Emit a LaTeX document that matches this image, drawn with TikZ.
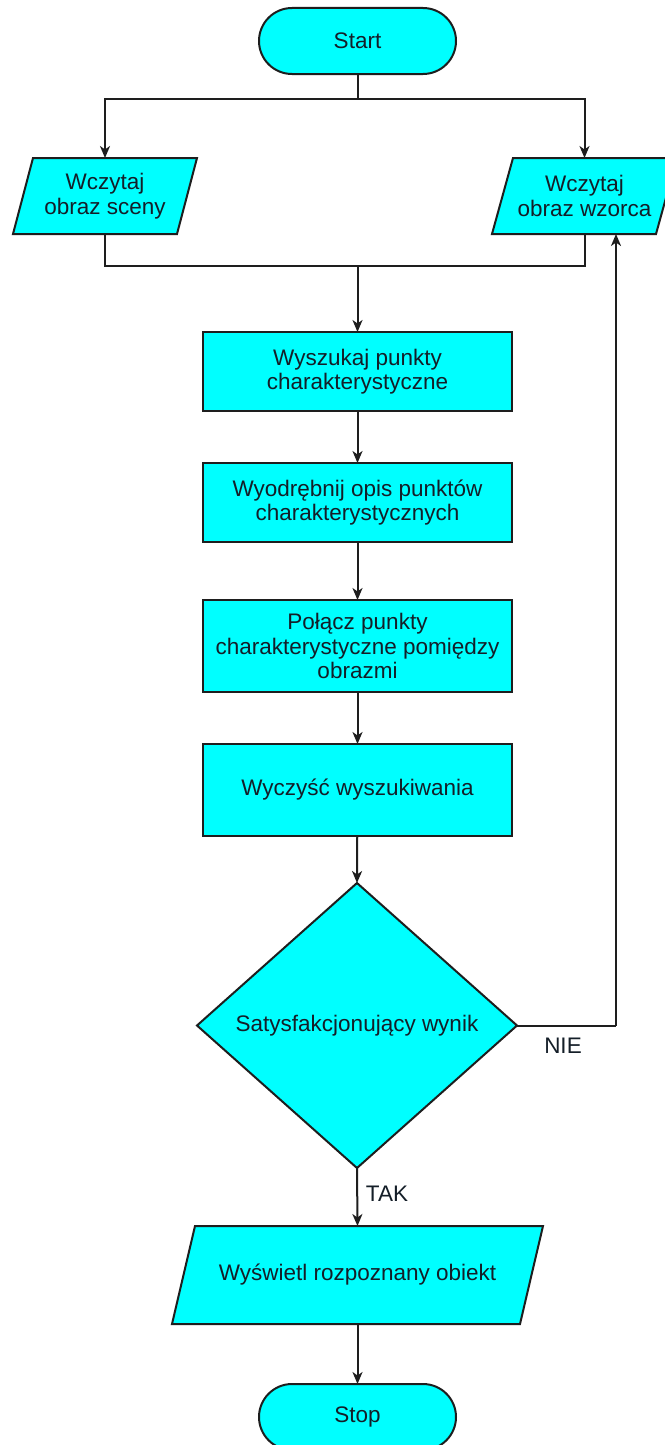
\documentclass[tikz,border=0pt]{standalone}
\usepackage{fontspec}
\setmainfont{Liberation Sans}
\usetikzlibrary{shapes.geometric,arrows.meta,calc,backgrounds}
\definecolor{boxfill}{RGB}{0,255,255}
\definecolor{inkline}{RGB}{30,30,30}
\definecolor{inktext}{RGB}{20,30,40}
\tikzset{
  base/.style={draw=inkline, line width=2pt, fill=boxfill, text=inktext, align=center,
    inner sep=0pt, outer sep=0pt, font=\fontsize{22.5}{24.5}\selectfont},
  terminal/.style={base, rectangle, rounded corners=33pt, minimum width=197pt, minimum height=66pt},
  procbox/.style={base, rectangle, minimum width=309pt},
  iobox/.style={base, draw=none, fill=none, rectangle},
  decision/.style={base, diamond, minimum width=320pt, minimum height=285pt},
  conn/.style={draw=inkline, line width=2pt},
  arr/.style={conn, -{Stealth[length=12pt,width=10pt,inset=3.5pt]}},
  lbl/.style={text=inktext, font=\fontsize{22.5}{24.5}\selectfont, inner sep=0pt}
}
\newcommand\drawpara[2]{%
  \begin{pgfonlayer}{background}
  \filldraw[draw=inkline, line width=2pt, fill=boxfill, line join=miter]
    ($(#1.south west)+(-#2,0)$) -- ($(#1.south east)+(-#2,0)$) --
    ($(#1.north east)+(#2,0)$) -- ($(#1.north west)+(#2,0)$) -- cycle;
  \end{pgfonlayer}}
\begin{document}
\begin{tikzpicture}[x=1pt,y=-1pt]
\begin{pgfonlayer}{background}
\fill[white] (0,0) rectangle (664,1445);
\end{pgfonlayer}
\useasboundingbox (0,0) rectangle (664,1445);

\node[terminal] (start) at (357.5,41) {Start};
\node[iobox, minimum width=164pt, minimum height=76pt] (scena) at (105,196) {Wczytaj\\obraz sceny};
\drawpara{scena}{10}
\node[iobox, minimum width=164pt, minimum height=76pt] (wzor) at (584.5,196) {Wczytaj\\obraz wzorca};
\drawpara{wzor}{10.5}
\node[procbox, minimum height=79pt] (szukaj) at (357.5,371.5) {Wyszukaj punkty\\charakterystyczne};
\node[procbox, minimum height=79pt] (opis) at (357.5,502.5) {Wyodrębnij opis punktów\\charakterystycznych};
\node[procbox, minimum height=92pt] (polacz) at (357.5,646) {Połącz punkty\\charakterystyczne pomiędzy\\obrazmi};
\node[procbox, minimum height=92pt] (czysc) at (357.5,790) {Wyczyść wyszukiwania};
\node[decision] (wynik) at (357,1025.5) {Satysfakcjonujący wynik};
\node[iobox, minimum width=348pt, minimum height=98pt] (wyswietl) at (357.5,1275) {Wyświetl rozpoznany obiekt};
\drawpara{wyswietl}{11.5}
\node[terminal] (stop) at (357.5,1417) {Stop};

\coordinate (split) at (357.5,99);
\coordinate (merge) at (357.5,266);
\coordinate (nieR) at (616,1025.5);

\draw[conn] (start.south) -- (split);
\draw[arr] (split) -| (scena.north);
\draw[arr] (split) -| (wzor.north);
\draw[conn] (scena.south) |- (merge);
\draw[conn] (wzor.south) |- (merge);
\draw[arr] (merge) -- (szukaj.north);
\draw[arr] (szukaj) -- (opis);
\draw[arr] (opis) -- (polacz);
\draw[arr] (polacz) -- (czysc);
\draw[arr] (czysc) -- (wynik.north);
\draw[conn] (wynik.east) -- (nieR);
\draw[arr] (nieR) -- (nieR |- wzor.south);
\draw[arr] (wynik.south) -- (wyswietl.north);
\draw[arr] (wyswietl) -- (stop);

\node[lbl] (nie) at (563,1046) {NIE};
\node[lbl] (tak) at (387,1194) {TAK};
\end{tikzpicture}
\end{document}
